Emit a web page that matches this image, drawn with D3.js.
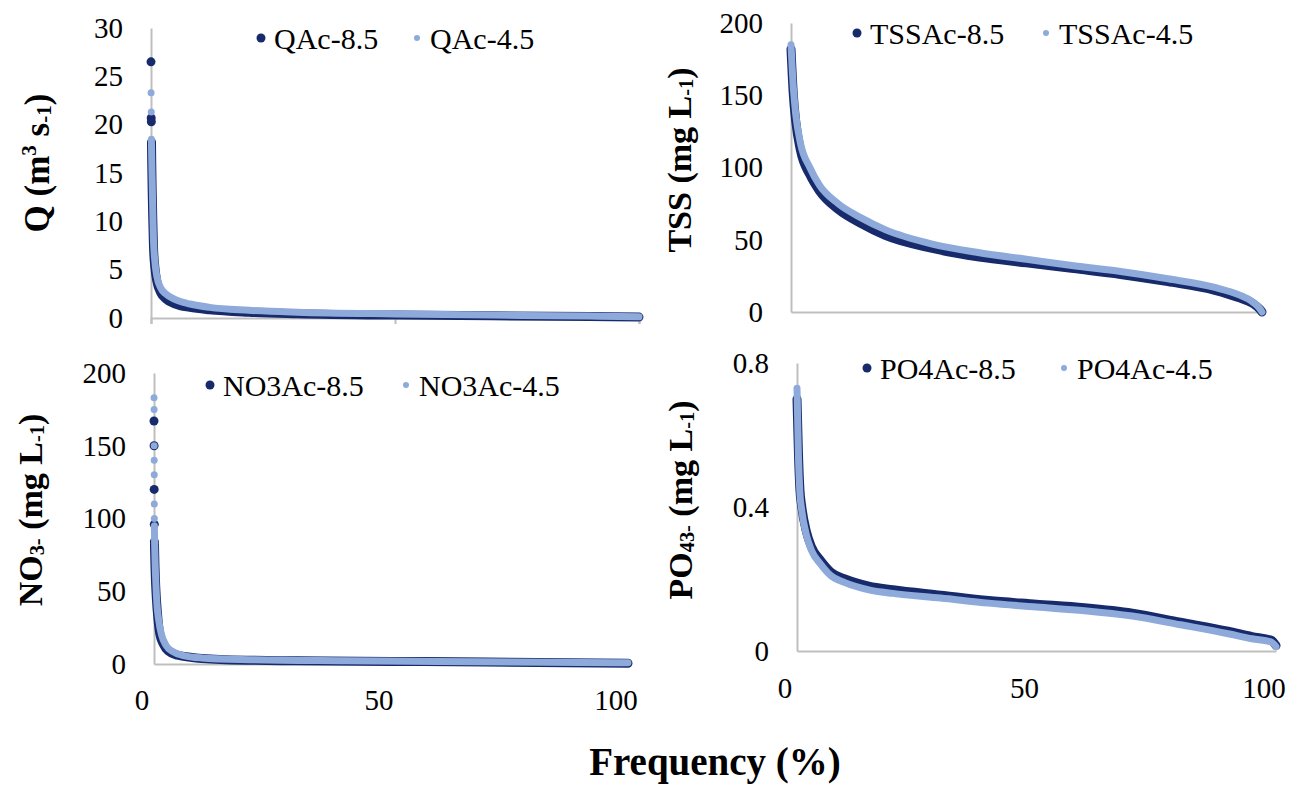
<!DOCTYPE html>
<html>
<head>
<meta charset="utf-8">
<script src="https://cdn.jsdelivr.net/npm/d3@7"></script>
<style>
  body { margin: 0; background: #fff; }
</style>
</head>
<body>
<div id="chart"></div>
<script>
// frequency (%) and values; "peak" = isolated top points
const qPeakFreq85 = [0, 0.04, 0.07];
const qPeakVal85 = [26.5, 20.7, 20.3];
const qPeakFreq45 = [0.02, 0.05];
const qPeakVal45 = [23.3, 21.3];
const qFreq85 = [0.1, 0.15, 0.25, 0.35, 0.5, 0.8, 1.2, 2, 3, 5, 8, 12, 20, 30, 50, 70, 90, 100];
const qVal85 = [18.2, 16, 13, 10.5, 7.5, 5.2, 3.8, 2.6, 2.0, 1.45, 1.1, 0.85, 0.6, 0.45, 0.3, 0.22, 0.15, 0.1];
const qFreq45 = [0.08, 0.15, 0.25, 0.35, 0.5, 0.8, 1.2, 2, 3, 5, 8, 12, 20, 30, 50, 70, 90, 100];
const qVal45 = [18.5, 16.5, 14, 11.5, 8.2, 5.8, 4.3, 3.1, 2.5, 1.9, 1.45, 1.1, 0.8, 0.6, 0.42, 0.3, 0.2, 0.12];

const tssFreq = [0, 0.5, 1, 2, 4, 6, 10, 15, 20, 30, 40, 50, 60, 70, 80, 90, 95, 98, 99.5, 100];
const tssVal85 = [182, 150, 132, 112, 95, 84, 71, 61, 53, 44, 38, 34, 30, 26, 21, 15, 10, 6, 2, 0];
const tssVal45 = [185, 155, 137, 117, 100, 88, 75, 65, 57, 47, 41, 36.5, 32, 28, 23, 17, 12, 7, 2.5, 0];

const no3PeakFreq85 = [0, 0.02, 0.04, 0.06, 0.08];
const no3PeakVal85 = [167, 150, 120, 96, 84];
const no3PeakFreq45 = [0.01, 0.02, 0.03, 0.04, 0.05, 0.06, 0.07];
const no3PeakVal45 = [183, 175, 150, 140, 130, 110, 100];
const no3Freq85 = [0.1, 0.15, 0.2, 0.3, 0.5, 0.8, 1.2, 2, 3, 5, 8, 15, 30, 50, 70, 100];
const no3Val85 = [82, 75, 68, 58, 45, 32, 21, 13.5, 9, 6, 4.5, 3, 2.2, 1.8, 1.4, 0.5];
const no3Freq45 = [0.08, 0.12, 0.17, 0.25, 0.4, 0.6, 1, 1.6, 2.5, 4, 6, 10, 20, 40, 60, 100];
const no3Val45 = [95, 85, 78, 68, 55, 42, 30, 20, 13, 8.5, 6, 4.2, 3, 2.2, 1.7, 0.8];

const po4Freq = [0, 0.3, 0.6, 1, 2, 3, 5, 7, 10, 15, 20, 30, 40, 50, 60, 70, 80, 90, 95, 99, 100];
const po4Val85 = [0.70, 0.55, 0.45, 0.40, 0.33, 0.29, 0.25, 0.22, 0.20, 0.18, 0.17, 0.155, 0.14, 0.13, 0.12, 0.105, 0.08, 0.055, 0.04, 0.03, 0.015];
const po4Val45 = [0.73, 0.54, 0.44, 0.39, 0.32, 0.28, 0.24, 0.21, 0.19, 0.17, 0.16, 0.147, 0.133, 0.122, 0.112, 0.097, 0.073, 0.048, 0.034, 0.025, 0.012];

const xTicks = [0, 50, 100];
const qTicks = [0, 5, 10, 15, 20, 25, 30];
const tssTicks = [0, 50, 100, 150, 200];
const no3Ticks = [0, 50, 100, 150, 200];
const po4Ticks = [0, 0.4, 0.8];

const dark = "#172a6b";
const light = "#8eaadb";
const serif = "'Liberation Serif', 'Times New Roman', serif";

const width = 1297;
const height = 796;

const svg = d3.select("#chart").append("svg")
  .attr("width", width)
  .attr("height", height)
  .style("font-family", serif);

// paneles
const panels = [
  {
    left: 151, right: 639, top: 28, bottom: 318, yMax: 30, yTicks: qTicks,
    xTickMarks: true, xLabels: false,
    s85: { name: "QAc-8.5", f: qFreq85, v: qVal85, pf: qPeakFreq85, pv: qPeakVal85 },
    s45: { name: "QAc-4.5", f: qFreq45, v: qVal45, pf: qPeakFreq45, pv: qPeakVal45 },
    legend: { x: 261, x2: 417, y: 38 },
    title: { x: 37, y: 163, size: 35, parts: [["Q (m"], ["3", "sup"], [" s"], ["-1", "sub"], [")"]] }
  },
  {
    left: 791, right: 1262, top: 23, bottom: 312, yMax: 200, yTicks: tssTicks,
    xTickMarks: false, xLabels: false,
    s85: { name: "TSSAc-8.5", f: tssFreq, v: tssVal85, pf: [], pv: [] },
    s45: { name: "TSSAc-4.5", f: tssFreq, v: tssVal45, pf: [], pv: [] },
    legend: { x: 857, x2: 1046, y: 33 },
    title: { x: 679, y: 160, size: 34, parts: [["TSS (mg L"], ["-1", "sub"], [")"]] }
  },
  {
    left: 154, right: 628, top: 373, bottom: 664, yMax: 200, yTicks: no3Ticks,
    xTickMarks: false, xLabels: true, labelY: 700,
    s85: { name: "NO3Ac-8.5", f: no3Freq85, v: no3Val85, pf: no3PeakFreq85, pv: no3PeakVal85 },
    s45: { name: "NO3Ac-4.5", f: no3Freq45, v: no3Val45, pf: no3PeakFreq45, pv: no3PeakVal45 },
    legend: { x: 210, x2: 406, y: 385 },
    title: { x: 30, y: 510, size: 34, parts: [["NO"], ["3-", "sub"], [" (mg L"], ["-1", "sub"], [")"]] }
  },
  {
    left: 797, right: 1276, top: 363, bottom: 651, yMax: 0.8, yTicks: po4Ticks,
    xTickMarks: false, xLabels: true, labelY: 688,
    s85: { name: "PO4Ac-8.5", f: po4Freq, v: po4Val85, pf: [], pv: [] },
    s45: { name: "PO4Ac-4.5", f: po4Freq, v: po4Val45, pf: [], pv: [] },
    legend: { x: 867, x2: 1064, y: 368 },
    title: { x: 680, y: 500, size: 34, parts: [["PO"], ["43-", "sub"], [" (mg L"], ["-1", "sub"], [")"]] }
  }
];

panels.forEach((p) => {
  const x = d3.scaleLinear().domain([0, 100]).range([p.left, p.right]);
  const y = d3.scaleLinear().domain([0, p.yMax]).range([p.bottom, p.top]);
  const g = svg.append("g");

  // eje y
  const yAxis = g.append("g")
    .attr("transform", `translate(${p.left},0)`)
    .call(d3.axisLeft(y).tickValues(p.yTicks).tickSize(0).tickPadding(28)
      .tickFormat((d) => d3.format("~g")(d)));
  yAxis.attr("font-family", null).attr("font-size", null);
  yAxis.select(".domain").attr("stroke", "#bfbfbf").attr("stroke-width", 2);
  yAxis.selectAll("text")
    .style("font-family", serif)
    .style("font-size", "29px");

  // eje x
  const xAxis = g.append("g")
    .attr("transform", `translate(0,${p.bottom})`)
    .call(d3.axisBottom(x).tickValues(xTicks).tickSizeOuter(0)
      .tickSize(p.xTickMarks ? 6 : 0).tickFormat(""));
  xAxis.select(".domain").attr("stroke", "#bfbfbf").attr("stroke-width", 2);
  xAxis.selectAll("line").attr("stroke", "#bfbfbf").attr("stroke-width", 2);

  if (p.xLabels) {
    g.append("g")
      .attr("transform", `translate(-12,${p.labelY})`)
      .selectAll("text")
      .data(xTicks)
      .join("text")
      .attr("x", (d) => x(d))
      .attr("dy", "0.35em")
      .attr("text-anchor", "middle")
      .style("font-size", "29px")
      .text((d) => d);
  }

  // curvas
  const line = (s) => d3.line()
    .x((d, i) => x(s.f[i]))
    .y((d) => y(d))
    .curve(d3.curveMonotoneX)(s.v);

  [[p.s85, dark, 9, 4.5], [p.s45, light, 7, 3.5]].forEach(([s, c, w, r]) => {
    g.append("path")
      .attr("d", line(s))
      .attr("fill", "none")
      .attr("stroke", c)
      .attr("stroke-width", w)
      .attr("stroke-linecap", "round")
      .attr("stroke-linejoin", "round");
    g.append("g")
      .selectAll("circle")
      .data(s.pv)
      .join("circle")
      .attr("cx", (d, i) => x(s.pf[i]))
      .attr("cy", (d) => y(d))
      .attr("r", r)
      .attr("fill", c);
  });

  // leyenda
  const lg = g.append("g");
  [[p.s85, dark, p.legend.x, 4.5], [p.s45, light, p.legend.x2, 3]].forEach(([s, c, lx, r]) => {
    lg.append("circle").attr("cx", lx).attr("cy", p.legend.y).attr("r", r).attr("fill", c);
    lg.append("text")
      .attr("x", lx + 13)
      .attr("y", p.legend.y)
      .attr("dy", "0.35em")
      .style("font-size", "30px")
      .text(s.name);
  });

  // titulo del eje y
  const t = g.append("text")
    .attr("transform", `translate(${p.title.x},${p.title.y}) rotate(-90)`)
    .attr("text-anchor", "middle")
    .attr("dy", "0.35em")
    .style("font-size", `${p.title.size}px`)
    .style("font-weight", "bold");
  p.title.parts.forEach(([txt, kind]) => {
    const ts = t.append("tspan").text(txt);
    if (kind === "sup") ts.style("font-size", "60%").attr("baseline-shift", "60%");
    if (kind === "sub") ts.style("font-size", "60%").attr("baseline-shift", "-10%");
  });
});

svg.append("text")
  .attr("x", 715)
  .attr("y", 775)
  .attr("text-anchor", "middle")
  .style("font-size", "39px")
  .style("font-weight", "bold")
  .text("Frequency (%)");
</script>
</body>
</html>
